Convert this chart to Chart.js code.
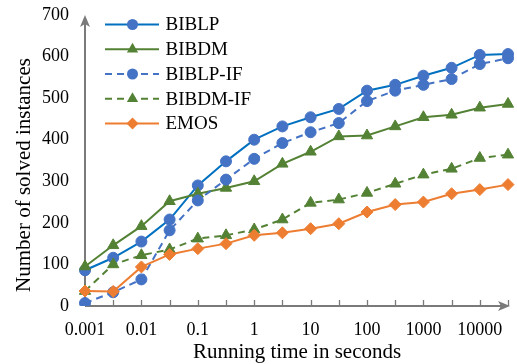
<!DOCTYPE html>
<html><head><meta charset="utf-8">
<script src="https://cdn.jsdelivr.net/npm/chart.js@4"></script>
<style>html,body{margin:0;padding:0;background:#fff}#wrap{width:517px;height:364px;position:relative}</style>
</head><body><div id="wrap"><canvas id="c"></canvas></div>
<script>
const categories = ['0.001','','0.01','','0.1','','1','','10','','100','','1000','','10000',''];
const yTicks = [0,100,200,300,400,500,600,700];
const seriesNames = ['BIBLP','BIBDM','BIBLP-IF','BIBDM-IF','EMOS'];
const biblp   = [86,116,155,208,290,348,400,432,454,474,518,532,554,573,604,606];
const bibdm   = [95,146,192,252,270,284,300,342,371,408,410,432,454,460,477,486];
const biblpIF = [7,33,64,182,254,304,354,392,418,440,493,518,532,546,582,596];
const bibdmIF = [36,100,122,136,162,170,184,208,248,256,272,294,316,330,356,364];
const emos    = [36,35,94,124,138,150,170,176,186,198,226,244,250,270,280,292];
const xTitle = 'Running time in seconds';
const yTitle = 'Number of solved instances';

const FONT = '"Liberation Serif", "Times New Roman", serif';
const styles = [
  {line:'#0070C0', point:'#4472C4', shape:'circle', r:5.5, dash:[]},
  {line:'#548235', point:'#548235', shape:'triangle', r:6.5, dash:[]},
  {line:'#4472C4', point:'#4472C4', shape:'circle', r:5.5, dash:[7,5]},
  {line:'#548235', point:'#548235', shape:'triangle', r:6.5, dash:[7,5]},
  {line:'#ED7D31', point:'#ED7D31', shape:'rectRot', r:6, dash:[]}
];
const allData = [biblp, bibdm, biblpIF, bibdmIF, emos];
const datasets = allData.map((d,i)=>({
  label: seriesNames[i], data: d,
  borderColor: styles[i].line, backgroundColor: styles[i].point,
  pointBackgroundColor: styles[i].point, pointBorderColor: styles[i].point,
  pointStyle: styles[i].shape, pointRadius: styles[i].r, pointBorderWidth: 1,
  borderWidth: 2, borderDash: styles[i].dash, tension: 0, order: 5-i
}));

function marker(ctx, shape, x, y, r, color){
  ctx.save(); ctx.fillStyle=color; ctx.beginPath();
  if(shape==='circle'){ ctx.arc(x,y,r,0,Math.PI*2); }
  else if(shape==='triangle'){
    ctx.moveTo(x, y-r); ctx.lineTo(x+r*Math.sin(Math.PI/3), y+r/2); ctx.lineTo(x-r*Math.sin(Math.PI/3), y+r/2); ctx.closePath();
  } else { ctx.moveTo(x,y-r); ctx.lineTo(x+r,y); ctx.lineTo(x,y+r); ctx.lineTo(x-r,y); ctx.closePath(); }
  ctx.fill(); ctx.restore();
}

const deco = {
  id:'deco',
  beforeDatasetsDraw(chart){
    const ctx=chart.ctx, a=chart.chartArea, xs=chart.scales.x;
    ctx.save();
    ctx.strokeStyle='#7a7a7a'; ctx.fillStyle='#7a7a7a';
    ctx.lineWidth=1.3;
    for(let i=1;i<categories.length;i++){
      const px=Math.round(xs.getPixelForValue(i))+0.5;
      ctx.beginPath(); ctx.moveTo(px,a.bottom-6); ctx.lineTo(px,a.bottom); ctx.stroke();
    }
    ctx.lineWidth=2;
    ctx.beginPath(); ctx.moveTo(a.left,a.bottom); ctx.lineTo(a.right-6,a.bottom); ctx.stroke();
    ctx.beginPath(); ctx.moveTo(a.right+2,a.bottom); ctx.lineTo(a.right-10,a.bottom-5); ctx.lineTo(a.right-7,a.bottom); ctx.lineTo(a.right-10,a.bottom+5); ctx.closePath(); ctx.fill();
    ctx.beginPath(); ctx.moveTo(a.left,a.bottom); ctx.lineTo(a.left,a.top+6); ctx.stroke();
    ctx.beginPath(); ctx.moveTo(a.left,a.top); ctx.lineTo(a.left-5,a.top+12); ctx.lineTo(a.left,a.top+9); ctx.lineTo(a.left+5,a.top+12); ctx.closePath(); ctx.fill();
    ctx.restore();
  },
  afterDraw(chart){
    const ctx=chart.ctx;
    ctx.save();
    ctx.fillStyle='#000'; ctx.font='21px '+FONT;
    ctx.textAlign='center'; ctx.textBaseline='middle';
    ctx.fillText(xTitle, 297, 352);
    ctx.translate(24,175); ctx.rotate(-Math.PI/2); ctx.fillText(yTitle,0,0);
    ctx.restore();
    ctx.save();
    const rows=[24.5,49.3,74,98.8,123.5];
    styles.forEach((s,i)=>{
      const y=rows[i];
      ctx.strokeStyle=s.line; ctx.lineWidth=2; ctx.setLineDash(s.dash);
      ctx.beginPath(); ctx.moveTo(105,y); ctx.lineTo(159,y); ctx.stroke();
      ctx.setLineDash([]);
      marker(ctx, s.shape, 132.5, y, s.r, s.point);
      ctx.fillStyle='#000'; ctx.font='19px '+FONT; ctx.textAlign='left'; ctx.textBaseline='middle';
      ctx.fillText(seriesNames[i], 165.5, y+1);
    });
    ctx.restore();
  }
};

new Chart(document.getElementById('c'), {
  type:'line',
  data:{labels:categories, datasets},
  options:{
    responsive:true, maintainAspectRatio:false, animation:false,
    layout:{padding:{top:15,right:9,left:0,bottom:0}},
    plugins:{legend:{display:false}, tooltip:{enabled:false}},
    scales:{
      x:{type:'category', offset:false, grid:{display:false, drawTicks:false}, border:{display:false},
         ticks:{autoSkip:false, maxRotation:0, color:'#000', font:{family:FONT,size:18}, padding:13},
         afterFit(s){ s.height=58; s.paddingLeft=0; s.paddingRight=0; }},
      y:{min:0, max:700, grid:{display:false, drawTicks:false}, border:{display:false},
         afterBuildTicks(s){ s.ticks = yTicks.map(v=>({value:v})); },
         ticks:{color:'#000', font:{family:FONT,size:18}, padding:16},
         afterFit(s){ s.width=85; s.paddingTop=0; s.paddingBottom=0; }}
    }
  },
  plugins:[deco]
});
</script></body></html>
